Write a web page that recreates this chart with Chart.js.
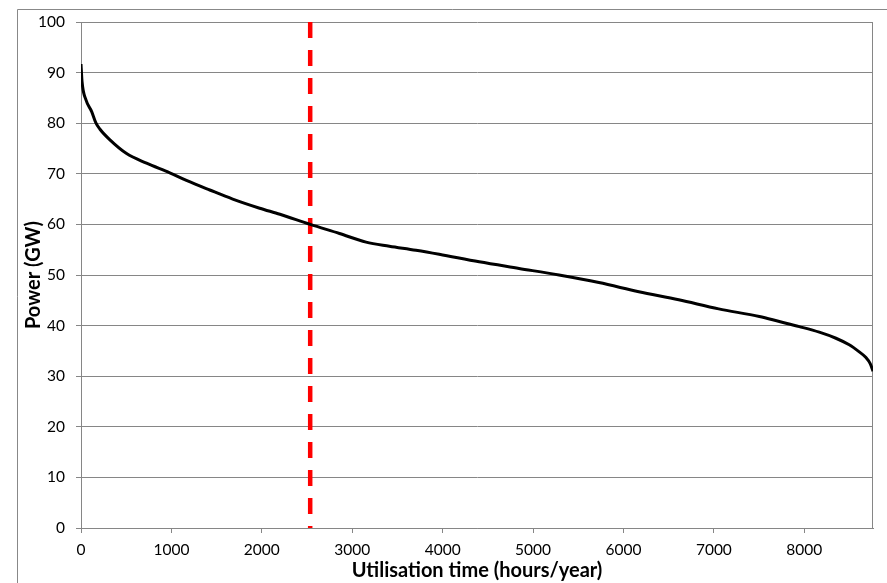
<!DOCTYPE html>
<html>
<head>
<meta charset="utf-8">
<script src="https://cdn.jsdelivr.net/npm/chart.js@4/dist/chart.umd.min.js"></script>
<style>
  html, body { margin: 0; padding: 0; background: #fff; }
  canvas { display: block; }
</style>
</head>
<body>
<canvas id="c" width="887" height="583"></canvas>
<script>
// Load duration curve (hours of the year vs power)
const hours = [0, 11, 55, 118, 166, 210, 320, 504, 725, 982, 1166, 1424, 1678, 1976, 2200, 2535, 2859, 3153, 3411, 3705, 3962, 4404, 4845, 5287, 5728, 6170, 6611, 7053, 7503, 7724, 7945, 8166, 8350, 8497, 8608, 8682, 8729, 8760];
const powerGW = [91.7, 88.3, 84.6, 82.3, 80.0, 78.8, 76.7, 74.0, 72.1, 70.2, 68.7, 66.8, 65.0, 63.2, 62.0, 60.0, 58.2, 56.5, 55.7, 54.9, 54.1, 52.6, 51.3, 50.0, 48.5, 46.7, 45.1, 43.3, 41.8, 40.8, 39.8, 38.7, 37.5, 36.2, 34.8, 33.7, 32.5, 31.0];
const markerHours = [2535, 2535];
const markerPower = [100, 0];
const xTickValues = [0, 1000, 2000, 3000, 4000, 5000, 6000, 7000, 8000];
const yTickValues = [0, 10, 20, 30, 40, 50, 60, 70, 80, 90, 100];
const xTitle = 'Utilisation time (hours/year)';
const yTitle = 'Power (GW)';

const curve = hours.map((h, i) => ({ x: h, y: powerGW[i] }));
const marker = markerHours.map((h, i) => ({ x: h, y: markerPower[i] }));

const frame = {
  id: 'frame',
  beforeDraw(chart) {
    const ctx = chart.ctx;
    ctx.save();
    ctx.fillStyle = '#fff';
    ctx.fillRect(0, 0, chart.width, chart.height);
    ctx.strokeStyle = '#888888';
    ctx.lineWidth = 1;
    ctx.beginPath();
    ctx.moveTo(17.5, chart.height);
    ctx.lineTo(17.5, 9.5);
    ctx.lineTo(chart.width, 9.5);
    ctx.stroke();
    ctx.restore();
  },
  beforeDatasetsDraw(chart) {
    const ctx = chart.ctx, a = chart.chartArea;
    ctx.save();
    ctx.strokeStyle = '#868686';
    ctx.lineWidth = 1;
    ctx.beginPath();
    ctx.moveTo(Math.round(a.right) - 0.5, a.top);
    ctx.lineTo(Math.round(a.right) - 0.5, a.bottom);
    ctx.stroke();
    ctx.restore();
  }
};

new Chart(document.getElementById('c'), {
  type: 'line',
  data: {
    datasets: [
      {
        data: curve,
        borderColor: '#000000',
        borderWidth: 3,
        pointRadius: 0,
        cubicInterpolationMode: 'monotone',
        fill: false
      },
      {
        data: marker,
        borderColor: '#ff0000',
        borderWidth: 4.5,
        borderDash: [16, 12],
        borderCapStyle: 'butt',
        pointRadius: 0,
        fill: false
      }
    ]
  },
  options: {
    responsive: false,
    animation: false,
    devicePixelRatio: 1,
    layout: { padding: { left: 20, top: 22, right: 14, bottom: 0 } },
    plugins: { legend: { display: false }, tooltip: { enabled: false } },
    scales: {
      x: {
        type: 'linear',
        min: 0,
        max: 8760,
        afterFit(s) { s.height = 55; },
        afterBuildTicks(s) { s.ticks = xTickValues.map(v => ({ value: v })); },
        ticks: {
          color: '#000',
          padding: 8,
          maxRotation: 0,
          autoSkip: false,
          callback: v => String(v),
          font: { family: 'Lato', size: 15.5 }
        },
        grid: {
          drawOnChartArea: false,
          drawTicks: true,
          tickLength: 5,
          color: '#868686'
        },
        border: { display: true, color: '#868686', width: 1 },
        title: {
          display: true,
          text: xTitle,
          color: '#000',
          padding: { top: 0, bottom: 0 },
          font: { family: 'Lato', size: 20, weight: 'bold' }
        }
      },
      y: {
        min: 0,
        max: 100,
        afterFit(s) { s.width = 61; },
        afterBuildTicks(s) { s.ticks = yTickValues.map(v => ({ value: v })); },
        ticks: {
          color: '#000',
          padding: 11,
          autoSkip: false,
          callback: v => String(v),
          font: { family: 'Lato', size: 15.5 }
        },
        grid: {
          drawOnChartArea: true,
          drawTicks: true,
          tickLength: 5,
          color: '#868686'
        },
        border: { display: true, color: '#868686', width: 1 },
        title: {
          display: true,
          text: yTitle,
          color: '#000',
          padding: { top: 2, bottom: 0 },
          font: { family: 'Lato', size: 20, weight: 'bold' }
        }
      }
    }
  },
  plugins: [frame]
});
</script>
</body>
</html>
